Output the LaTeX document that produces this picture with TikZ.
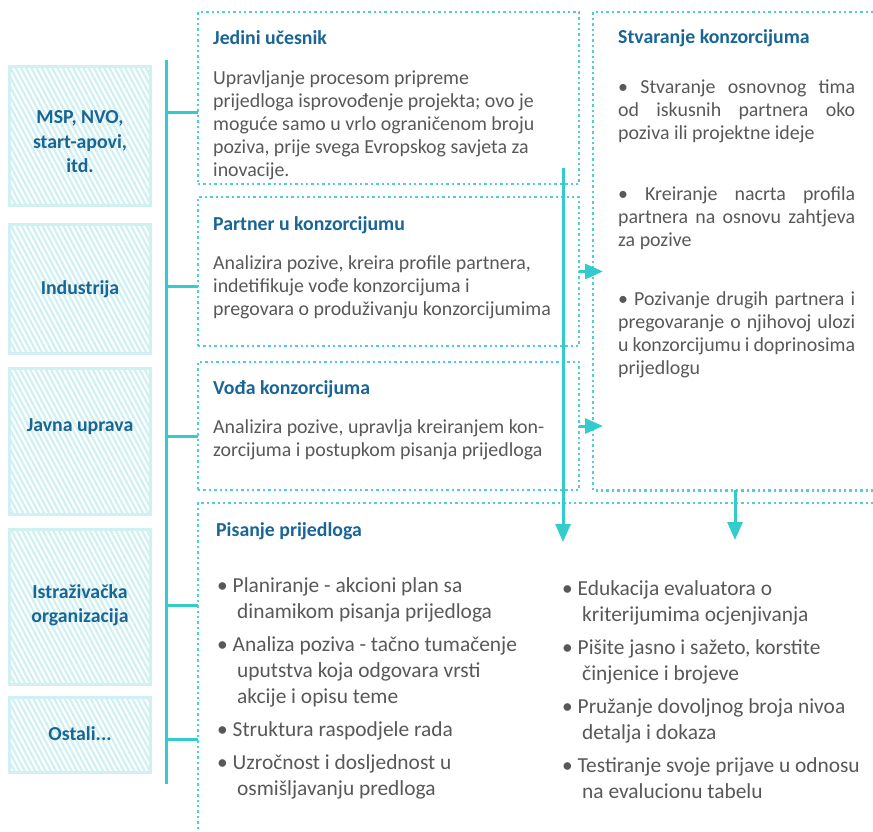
\documentclass[tikz,border=0pt]{standalone}
\usepackage{fontspec}
\setmainfont{Carlito}
\usetikzlibrary{arrows.meta, positioning, patterns.meta}
\usepackage{xcolor}
\definecolor{headBlue}{RGB}{24,101,150}
\definecolor{bodyGray}{RGB}{88,88,88}
\definecolor{tealLine}{RGB}{51,204,204}
\definecolor{tealDot}{RGB}{78,208,210}
\definecolor{hatchCyan}{RGB}{208,240,241}

\begin{document}
\begin{tikzpicture}[
    x=1pt, y=-1pt,
    sideBox/.style={
        rectangle,
        draw=hatchCyan,
        line width=3pt,
        pattern={Lines[angle=-62,distance=4.6pt,line width=2.3pt]},
        pattern color=hatchCyan,
        minimum width=141pt,
        inner sep=0pt
    },
    sideText/.style={align=center, text=headBlue, font=\bfseries\fontsize{19.8}{24.5}\selectfont},
    dotBox/.style={rectangle, draw=tealDot, line width=2.4pt, dash pattern=on 2.4pt off 3pt,
        anchor=north west, inner sep=0pt, outer sep=0pt},
    dotLine/.style={draw=tealDot, line width=2.4pt, dash pattern=on 2.4pt off 3pt},
    heading/.style={anchor=north west, inner sep=0pt, text=headBlue, font=\bfseries\fontsize{19.8}{23}\selectfont},
    body/.style={anchor=north west, inner sep=0pt, align=left, text=bodyGray, font=\fontsize{19.9}{23}\selectfont},
    listText/.style={anchor=north west, inner sep=0pt, align=left, text=bodyGray, font=\fontsize{21.4}{26}\selectfont},
    branchLine/.style={tealLine, line width=3pt},
    flowArrow/.style={-{Triangle[length=18pt,width=15pt]}, tealLine, line width=3pt}
]
    \useasboundingbox (0,0) rectangle (873,832);

    % Participant types (left side)
    \node[sideBox, minimum height=139pt] (msp) at (80,136) {};
    \node[sideBox, minimum height=129pt] (industry) at (80,289) {};
    \node[sideBox, minimum height=146pt] (publicAdm) at (80,441.5) {};
    \node[sideBox, minimum height=155pt] (research) at (80,607) {};
    \node[sideBox, minimum height=75pt] (others) at (80,735) {};

    \node[sideText] (mspText) at (80,142) {MSP, NVO,\\start-apovi,\\itd.};
    \node[sideText] (industryText) at (80,289) {Industrija};
    \node[sideText] (publicAdmText) at (80,427) {Javna uprava};
    \node[sideText] (researchText) at (80,605) {Istraživačka\\organizacija};
    \node[sideText] (othersText) at (80,734) {Ostali...};

    % Bracket
    \coordinate (trunkTop) at (166,60);
    \coordinate (trunkBot) at (166,784);
    \draw[branchLine] (trunkTop) -- (trunkBot);
    \foreach \y in {113,286,436,605,739}
        \draw[branchLine] (166,\y) -- (198,\y);

    % Roles (middle)
    \node[dotBox, minimum width=381pt, minimum height=172pt] (single) at (198,12) {};
    \node[dotBox, minimum width=381pt, minimum height=149pt] (partner) at (198,197) {};
    \node[dotBox, minimum width=381pt, minimum height=128pt] (leader) at (198,362) {};

    \node[heading] (singleHead) at (213,30) {Jedini učesnik};
    \node[body] (singleBody) at (213,70) {Upravljanje procesom pripreme\\prijedloga isprovođenje projekta; ovo je\\moguće samo u vrlo ograničenom broju\\poziva, prije svega Evropskog savjeta za\\inovacije.};
    \node[heading] (partnerHead) at (213,216) {Partner u konzorcijumu};
    \node[body] (partnerBody) at (213,255) {Analizira pozive, kreira profile partnera,\\indetifikuje vođe konzorcijuma i\\pregovara o produživanju konzorcijumima};
    \node[heading] (leaderHead) at (213,380) {Vođa konzorcijuma};
    \node[body] (leaderBody) at (213,419) {Analizira pozive, upravlja kreiranjem kon-\\zorcijuma i postupkom pisanja prijedloga};

    % Consortium building (right side)
    \node[anchor=north west, inner sep=0pt, minimum width=280pt, minimum height=478pt] (consortium) at (593,12) {};
    \draw[dotLine] (consortium.north east) -- (consortium.north west) -- (consortium.south west) -- (consortium.south east);
    \node[heading] (consortiumHead) at (618,29) {Stvaranje konzorcijuma};
    \node[body] (consItem1) at (618,80) {\makebox[237pt][s]{\textbullet\ Stvaranje osnovnog tima}\\\makebox[237pt][s]{od iskusnih partnera oko}\\poziva ili projektne ideje};
    \node[body] (consItem2) at (618,186) {\makebox[237pt][s]{\textbullet\ Kreiranje nacrta profila}\\\makebox[237pt][s]{partnera na osnovu zahtjeva}\\za pozive};
    \node[body] (consItem3) at (618,291) {\makebox[237pt][s]{\textbullet\ Pozivanje drugih partnera i}\\\makebox[237pt][s]{pregovaranje o njihovoj ulozi}\\\makebox[237pt][s]{u konzorcijumu i doprinosima}\\prijedlogu};

    % Proposal writing (bottom)
    \node[anchor=north west, inner sep=0pt, minimum width=675pt, minimum height=329pt] (writing) at (198,503) {};
    \draw[dotLine] (writing.north east) -- (writing.north west) -- (writing.south west);
    \node[heading] (writingHead) at (216,522) {Pisanje prijedloga};
    \node[listText] (writingLeft) at (217,577) {\textbullet\ Planiranje - akcioni plan sa\\
        \hspace*{20pt}dinamikom pisanja prijedloga\\[7pt]
        \textbullet\ Analiza poziva - tačno tumačenje\\
        \hspace*{20pt}uputstva koja odgovara vrsti\\
        \hspace*{20pt}akcije i opisu teme\\[7pt]
        \textbullet\ Struktura raspodjele rada\\[7pt]
        \textbullet\ Uzročnost i dosljednost u\\
        \hspace*{20pt}osmišljavanju predloga};
    \node[listText] (writingRight) at (562,580) {\textbullet\ Edukacija evaluatora o\\
        \hspace*{20pt}kriterijumima ocjenjivanja\\[7pt]
        \textbullet\ Pišite jasno i sažeto, korstite\\
        \hspace*{20pt}činjenice i brojeve\\[7pt]
        \textbullet\ Pružanje dovoljnog broja nivoa\\
        \hspace*{20pt}detalja i dokaza\\[7pt]
        \textbullet\ Testiranje svoje prijave u odnosu\\
        \hspace*{20pt}na evalucionu tabelu};

    % Flow arrows
    \coordinate (mainStart) at (563,168);
    \coordinate (mainEnd) at (563,542);
    \coordinate (consDrop) at (735,490);
    \coordinate (consDropEnd) at (735,540);
    \draw[flowArrow] (mainStart) -- (mainEnd);
    \draw[flowArrow] (partner.east) -- ++(24,0);
    \draw[flowArrow] (leader.east) -- ++(24,0);
    \draw[flowArrow] (consDrop) -- (consDropEnd);
\end{tikzpicture}
\end{document}
